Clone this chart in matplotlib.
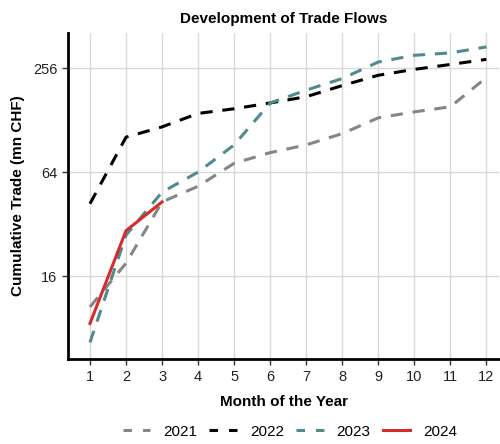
import numpy as np
import matplotlib
matplotlib.use("Agg")
import matplotlib.pyplot as plt
from matplotlib.lines import Line2D
from matplotlib.ticker import FixedLocator, NullLocator

months = list(range(1, 13))
trade_2021 = [10.6, 19, 43, 53, 72, 83, 92, 107, 132, 143, 153, 226]
trade_2022 = [42, 102, 117, 140, 149, 161, 175, 203, 233, 252, 269, 288]
trade_2023 = [6.6, 27.6, 49, 64, 92, 161, 191, 223, 278, 304, 314, 340]
months_2024 = [1, 2, 3]
trade_2024 = [8.5, 29.3, 43]

years = ["2021", "2022", "2023", "2024"]
colors = ["#858585", "#000000", "#4f8a8f", "#d92a2a"]

plt.rcParams['font.family'] = ['Liberation Sans', 'DejaVu Sans']

fig = plt.figure(figsize=(5, 4.44), dpi=100)
ax = fig.add_axes([0.136, 0.191, 0.862, 0.735])

dash = (0, (4, 3.2))
ax.plot(months, trade_2021, color=colors[0], lw=2.2, linestyle=dash)
ax.plot(months, trade_2022, color=colors[1], lw=2.2, linestyle=dash)
ax.plot(months, trade_2023, color=colors[2], lw=2.2, linestyle=dash)
ax.plot(months_2024, trade_2024, color=colors[3], lw=2.2)

ax.set_yscale("log", base=2)
ax.yaxis.set_major_locator(FixedLocator([16, 64, 256]))
ax.yaxis.set_minor_locator(NullLocator())
ax.set_yticklabels(["16", "64", "256"])
ax.set_ylim(2 ** 2.4, 2 ** 8.68)
ax.set_xlim(0.39, 12.35)
ax.set_xticks(months)

ax.grid(True, color="#d9d9d9", lw=1.0)
ax.set_axisbelow(True)
for s in ["top", "right"]:
    ax.spines[s].set_visible(False)
ax.spines["left"].set_linewidth(2)
ax.spines["bottom"].set_linewidth(2)
ax.tick_params(axis="both", labelsize=10.5, color="#333333", length=4, width=1, labelcolor="#222222")

ax.set_title("Development of Trade Flows", fontsize=11, fontweight="bold", pad=7)
ax.set_xlabel("Month of the Year", fontsize=11, fontweight="bold", labelpad=8)
ax.set_ylabel("Cumulative Trade (mn CHF)", fontsize=11, fontweight="bold", labelpad=6)

# legend proxies so each key shows two whole dashes
leg_dash = (0, (2.8, 3.6))
handles = [Line2D([], [], color=c, lw=2.2, linestyle=leg_dash) for c in colors[:3]]
handles.append(Line2D([], [], color=colors[3], lw=2.2))
ax.legend(handles, years, loc="center", bbox_to_anchor=(0.515, -0.222), ncol=4, frameon=False,
          fontsize=11, handlelength=1.8, columnspacing=0.8, handletextpad=0.85,
          borderpad=0.2)

fig.savefig("out.png", dpi=100)
